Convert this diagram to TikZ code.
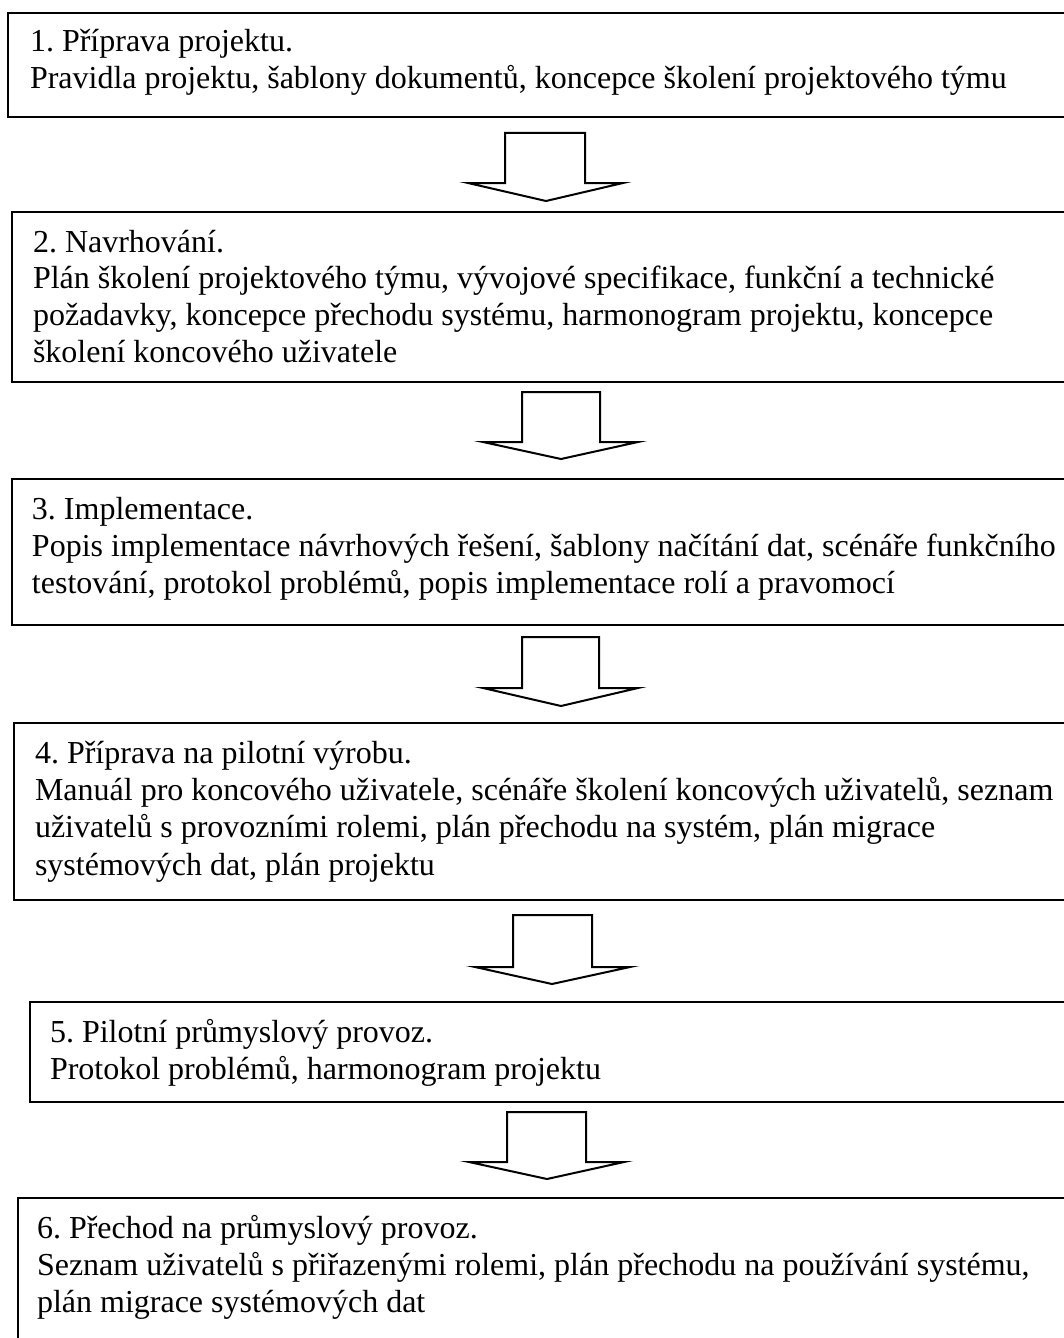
\documentclass[tikz,border=0pt]{standalone}
\usepackage{fontspec}
\setmainfont{Liberation Serif}
\frenchspacing
\begin{document}
\begin{tikzpicture}[x=0.5pt,y=-0.5pt,
  box/.style={draw=black,line width=1pt,fill=none,inner sep=0pt,outer sep=0pt,anchor=north west},
  txt/.style={inner sep=0pt,outer sep=0pt,anchor=base west,font=\fontsize{16pt}{18.5pt}\selectfont},
  blk/.style={draw=black,line width=1pt,fill=white,line join=miter}]
\path[use as bounding box] (0,0) rectangle (1064,1338);
\clip (0,0) rectangle (1064,1338);
\newcommand{\blockarrow}[8]{%
  \draw[blk] (#1,#3) -- (#2,#3) -- (#2,#4) -- (#6,#4) -- (#7,#8) -- (#5,#4) -- (#1,#4) -- cycle;}
% boxes
\node[box,minimum width=533.5pt,minimum height=52pt] (b1) at (8,13) {};
\node[box,minimum width=531.5pt,minimum height=85pt] (b2) at (12,212) {};
\node[box,minimum width=531.5pt,minimum height=73pt] (b3) at (12,479) {};
\node[box,minimum width=530.5pt,minimum height=88.5pt] (b4) at (14,723) {};
\node[box,minimum width=522.5pt,minimum height=50pt] (b5) at (30,1002) {};
\node[box,minimum width=528.5pt,minimum height=80pt] (b6) at (18,1198) {};
% texts
\node[txt] (t1a) at (30,52) {1. Příprava projektu.};
\node[txt] (t1b) at (30,89) {Pravidla projektu, šablony dokumentů, koncepce školení projektového týmu};
\node[txt] (t2a) at (33,252) {2. Navrhování.};
\node[txt] (t2b) at (33,288) {Plán školení projektového týmu, vývojové specifikace, funkční a technické};
\node[txt] (t2c) at (33,325) {požadavky, koncepce přechodu systému, harmonogram projektu, koncepce};
\node[txt] (t2d) at (33,362) {školení koncového uživatele};
\node[txt] (t3a) at (32,519) {3. Implementace.};
\node[txt] (t3b) at (32,556) {Popis implementace návrhových řešení, šablony načítání dat, scénáře funkčního};
\node[txt] (t3c) at (32,593) {testování, protokol problémů, popis implementace rolí a pravomocí};
\node[txt] (t4a) at (35,763) {4. Příprava na pilotní výrobu.};
\node[txt] (t4b) at (35,800) {Manuál pro koncového uživatele, scénáře školení koncových uživatelů, seznam};
\node[txt] (t4c) at (35,837) {uživatelů s provozními rolemi, plán přechodu na systém, plán migrace};
\node[txt] (t4d) at (35,875) {systémových dat, plán projektu};
\node[txt] (t5a) at (50,1042) {5. Pilotní průmyslový provoz.};
\node[txt] (t5b) at (50,1079) {Protokol problémů, harmonogram projektu};
\node[txt] (t6a) at (37,1238) {6. Přechod na průmyslový provoz.};
\node[txt] (t6b) at (37,1275) {Seznam uživatelů s přiřazenými rolemi, plán přechodu na používání systému,};
\node[txt] (t6c) at (37,1312) {plán migrace systémových dat};
% block arrows: shaft-left, shaft-right, top, shoulder, wing-left, wing-right, tip-x, tip-y
\blockarrow{505}{585}{133}{183}{468}{623}{546}{201}
\blockarrow{522}{600}{392}{442}{483}{638}{561}{459}
\blockarrow{522}{599}{637}{688}{483}{638}{561}{706}
\blockarrow{513}{592}{915}{967}{475}{630}{552}{984}
\blockarrow{507}{586}{1112}{1162}{469}{624}{547}{1179}
\end{tikzpicture}
\end{document}
